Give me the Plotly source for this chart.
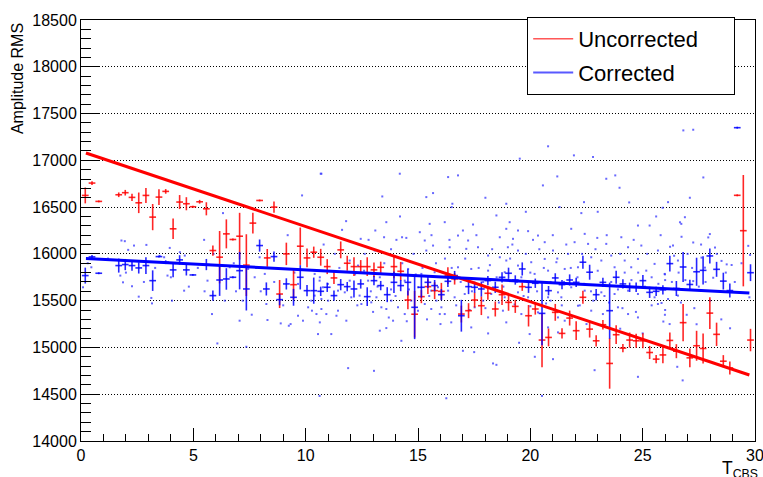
import plotly.graph_objects as go

# ---------------- data ----------------
# Profile points: Uncorrected (red)
unc_x = [0.19, 0.49, 0.79, 1.68, 1.97, 2.27, 2.57, 2.89, 3.19, 3.47, 3.77, 4.10, 4.39, 4.69, 4.98,
         5.28, 5.58, 5.87, 6.17, 6.47, 6.76, 7.06, 7.36, 7.65, 7.95, 8.29, 8.59, 8.84, 9.14, 9.46,
         9.76, 10.06, 10.36, 10.67, 10.96, 11.26, 11.56, 11.85, 12.15, 12.45, 12.74, 13.04, 13.34,
         13.93, 14.23, 14.55, 14.85, 15.15, 15.44, 15.74, 16.04, 16.33, 16.63, 16.93, 17.25, 17.52,
         17.82, 18.11, 18.44, 18.74, 19.03, 19.33, 19.64, 19.92, 20.22, 20.52, 20.81, 21.11, 21.41,
         21.75, 22.04, 22.34, 22.64, 22.93, 23.23, 23.53, 23.82, 24.12, 24.42, 24.71, 25.01, 25.31,
         25.60, 25.90, 26.21, 26.50, 26.80, 27.10, 27.40, 27.69, 27.99, 28.29, 28.59, 28.88, 29.21,
         29.48, 29.80]
unc_y = [16625, 16757, 16561, 16632, 16654, 16604, 16546, 16625, 16393, 16607, 16668, 16268, 16554, 16536, 16504,
         16557, 16482, 16036, 15965, 16214, 16154, 16189, 15880, 16329, 16571, 15957, 16500, 15571, 16000, 15671,
         16082, 15957, 16018, 15964, 15864, 15743, 16043, 15900, 15864, 15864, 15864, 15829, 15857,
         15864, 15814, 15507, 15355, 15543, 15650, 15607, 15600, 15768, 15732, 15357, 15393, 15507,
         15446, 15579, 15411, 15564, 15482, 15439, 15650, 15339, 15411, 15079, 15107, 15375, 15150,
         15314, 15179, 15536, 15196, 15071, 15243, 14829, 15136, 14993, 15079, 15071, 15071, 14946,
         14875, 14920, 15075, 14960, 15265, 14889, 15018, 14989, 15367, 15140, 14853, 14781, 16626,
         16248, 15079]
unc_err = [85, 20, 10, 25, 30, 40, 110, 80, 140, 85, 25, 110, 75, 70, 10,
           20, 70, 55, 280, 155, 10, 250, 330, 110, 10, 95, 60, 150, 120, 160,
           200, 100, 60, 90, 80, 65, 90, 80, 100, 70, 100, 80, 60,
           125, 100, 100, 250, 70, 80, 90, 90, 90, 60, 90, 80, 80,
           100, 70, 80, 110, 90, 70, 45, 115, 60, 290, 95, 90, 55,
           80, 100, 70, 90, 60, 50, 270, 100, 45, 80, 75, 80, 70,
           45, 90, 85, 75, 200, 100, 160, 160, 170, 125, 65, 70, 10,
           595, 120]

# Profile points: Corrected (blue)
cor_x = [0.19, 0.49, 0.79, 1.68, 1.97, 2.27, 2.57, 2.89, 3.19, 3.47, 3.77, 4.10, 4.39, 4.69, 4.98,
         5.58, 5.87, 6.17, 6.47, 6.76, 7.06, 7.36, 7.95, 8.25, 8.59, 8.84, 9.14, 9.46, 9.76, 10.06,
         10.36, 10.67, 10.96, 11.26, 11.56, 11.85, 12.15, 12.45, 12.74, 13.04, 13.34, 13.63, 13.93,
         14.23, 14.55, 14.85, 15.15, 15.44, 15.74, 16.04, 16.33, 16.63, 16.93, 17.25, 17.52, 17.82,
         18.11, 18.44, 18.74, 19.03, 19.33, 19.64, 19.92, 20.22, 20.52, 20.81, 21.11, 21.41, 21.75,
         22.04, 22.34, 22.64, 22.93, 23.23, 23.53, 23.82, 24.12, 24.42, 24.71, 25.01, 25.31, 25.60,
         25.90, 26.21, 26.50, 26.80, 27.10, 27.40, 27.69, 27.99, 28.29, 28.59, 28.88, 29.21, 29.80]
cor_y = [15768, 15968, 15793, 15875, 15886, 15875, 15850, 15875, 15714, 15971, 15911, 15829, 15936, 15829, 15775,
         15886, 15554, 15721, 15732, 15750, 15821, 15625, 16089, 15625, 15971, 15511, 15679, 15536, 15750, 15607,
         15607, 15600, 15643, 15554, 15671, 15650, 15625, 15679, 15543, 15714, 15661, 15564, 15696,
         15661, 15696, 15429, 15643, 15696, 15661, 15564, 15707, 15768, 15339, 15650, 15643, 15625,
         15714, 15643, 15750, 15793, 15721, 15839, 15643, 15686, 15364, 15607, 15743, 15671, 15721,
         15696, 15911, 15804, 15564, 15696, 15393, 15750, 15679, 15643, 15643, 15714, 15589, 15600,
         15615, 15896, 15630, 15860, 15673, 15809, 15824, 15978, 15835, 15709, 15608, 17349, 15799]
cor_err = [85, 20, 10, 75, 60, 55, 60, 90, 110, 10, 20, 80, 50, 60, 10,
           60, 55, 170, 115, 10, 200, 230, 65, 70, 55, 60, 60, 90, 130, 60,
           140, 50, 50, 55, 60, 50, 90, 50, 100, 50, 50, 80, 115,
           60, 140, 340, 110, 60, 60, 60, 60, 50, 170, 80, 60, 80,
           50, 60, 55, 60, 50, 70, 60, 50, 340, 50, 50, 50, 60,
           50, 70, 80, 60, 50, 300, 70, 50, 50, 50, 60, 60, 50,
           50, 85, 80, 160, 50, 150, 150, 80, 80, 90, 75, 10, 90]

# Linear fits
fit_x = [0.22, 29.75]
unc_fit_y = [17078, 14705]
cor_fit_y = [15951, 15582]

# Individual corrected events (scatter)
evt_x = [1.80, 1.95, 2.36, 2.10, 2.91, 3.95, 3.50, 3.70, 4.40, 4.62, 0.46, 0.09, 1.75, 1.87, 2.27, 2.57,
         3.13, 3.16, 3.85, 4.00, 4.59, 4.05,
         6.32, 5.48, 9.84, 10.70, 6.07, 7.36, 5.83, 7.06, 8.25, 8.30, 8.89, 9.33, 9.66, 9.88, 10.11,
         10.28, 10.48, 10.63, 10.25, 10.40, 10.63, 7.73, 8.18, 7.95, 7.44, 6.62, 5.63, 10.40, 10.70,
         9.66, 9.25, 10.55,
         10.67, 14.19, 13.41, 15.67, 15.37, 13.59, 15.52, 12.45, 11.62, 13.49, 14.04, 14.29, 14.48,
         15.08, 15.30, 15.67, 15.37, 13.07, 12.63, 11.96, 12.33, 10.62, 10.77, 10.99, 11.44, 11.74,
         12.03, 12.40, 12.48, 12.92, 13.15, 13.37, 13.59, 13.81, 14.11, 14.41, 14.70, 15.00, 15.30,
         15.59, 15.82, 15.97, 10.70, 10.92, 11.44, 11.37, 11.81, 11.14, 13.30, 13.59, 13.89, 14.26,
         11.89, 13.04, 10.62, 14.56, 13.96, 15.15, 15.74, 11.96, 12.78, 13.30, 14.41, 15.00, 15.59,
         15.89,
         20.79, 19.53, 16.34, 16.78, 16.53, 18.93, 16.19, 19.08, 20.56, 21.20, 18.49, 16.78, 17.23,
         17.45, 18.64, 18.93, 19.23, 19.45, 19.90, 20.12, 20.34, 20.64, 21.01, 16.41, 17.15, 17.67,
         19.00, 19.45, 18.12, 18.64, 18.93, 20.04, 20.64, 21.16, 16.78, 17.37, 18.12, 18.86, 19.45,
         20.19, 20.79, 16.34, 16.63, 17.08, 18.26, 18.86, 19.45, 19.90, 20.79, 21.23, 16.04, 16.19,
         16.48, 17.52, 18.12, 18.78, 19.60, 20.34, 21.01, 21.23, 17.37, 18.12, 18.93, 19.97, 20.79,
         17.00, 21.01, 18.34, 18.49, 20.52, 16.26, 21.23,
         21.94, 22.79, 22.39, 22.27, 23.38, 23.78, 23.97, 26.13, 24.79, 25.31, 21.82, 22.42, 22.98,
         24.05, 21.97, 22.57, 23.38, 24.35, 24.94, 25.68, 26.35, 26.72, 21.68, 22.71, 23.16, 23.60,
         24.20, 24.79, 25.53, 26.57, 21.53, 22.12, 23.75, 24.49, 25.16, 25.98, 21.82, 22.42, 23.16,
         23.75, 24.35, 24.79, 25.53, 26.13, 26.57, 21.38, 22.12, 22.71, 23.23, 23.90, 24.35, 25.68,
         22.86, 24.79, 26.54, 21.53, 24.79,
         26.81, 27.25, 27.70, 25.89, 26.88, 26.66, 26.73, 27.25, 27.99, 27.92, 28.22, 26.22, 29.70,
         29.78, 28.51, 28.74, 28.96, 27.62, 27.77, 25.99, 27.25, 28.14, 25.84, 25.99, 25.92, 26.96,
         27.40, 28.89, 26.78, 29.75,
         12.2, 12.6, 12.9, 13.2, 13.5, 13.8, 14.0, 14.3, 14.6, 14.9, 15.2, 15.5, 15.8, 16.1, 12.3,
         13.0, 13.7, 14.5, 15.4, 16.0, 12.8, 13.8, 14.8, 15.6, 14.2, 13.1, 11.0, 11.5, 11.3, 10.8,
         9.5, 9.0, 8.6, 8.0, 7.6, 6.9, 6.4, 5.9, 9.2, 11.8,
         16.2, 16.5, 16.9, 17.1, 17.4, 17.7, 17.9, 18.2, 18.5, 18.8, 19.1, 19.4, 19.7, 20.0, 20.3,
         20.6, 20.9, 21.2, 21.5, 21.8, 16.4, 17.0, 17.6, 18.3, 19.2, 19.8, 20.4, 21.0, 21.6, 16.7,
         17.3, 18.0, 18.6, 19.3, 20.0, 20.7, 21.4, 17.9, 19.6, 20.9, 16.5, 18.0, 19.8, 21.3, 17.5,
         19.5, 20.2,
         22.1, 22.4, 22.7, 23.0, 23.3, 23.6, 23.9, 24.2, 24.5, 24.8, 25.1, 25.4, 25.7, 26.0, 26.3,
         26.6, 26.9, 27.2, 27.5, 27.8, 22.3, 22.9, 23.4, 24.0, 24.6, 25.2, 25.8, 26.4, 27.0, 27.6,
         22.2, 22.8, 23.5, 24.1, 24.7, 25.4, 26.0, 26.7, 27.3, 28.0, 23.0, 24.4, 25.6, 27.1, 28.3,
         28.7, 29.1, 29.4, 22.5, 24.0, 25.0, 26.2, 28.5,
         0.3, 1.2, 2.0, 2.8, 3.3, 4.2, 4.8, 5.2, 5.5, 6.8, 7.2, 7.8]
evt_y = [16143, 16136, 16089, 16043, 16096, 16064, 15979, 15964, 16018, 15982, 15857, 15643, 15768, 15696, 15654, 15543,
         15529, 15471, 15768, 15750, 15607, 15500,
         16436, 16150, 16625, 16857, 15043, 15007, 15357, 15286, 15464, 15293, 15257, 15250, 15339, 15286, 15429,
         15393, 15357, 15268, 15500, 15786, 15750, 15750, 15786, 15964, 15839, 15857, 15714, 15554, 15518,
         15679, 15232, 15143,
         16857, 16857, 16614, 16650, 16607, 16339, 16321, 16161, 16257, 16178, 16150, 16178, 16171,
         16232, 16143, 16089, 16036, 16036, 16000, 15929, 15875, 15714, 15643, 15679, 15607, 15589,
         15536, 15554, 15464, 15482, 15536, 15429, 15411, 15500, 15429, 15357, 15500, 15393, 15464,
         15411, 15500, 15357, 15411, 15357, 15393, 15339, 15286, 15143, 15179, 15207, 15286, 15071,
         14779, 14750, 14482, 15839, 15786, 15786, 15804, 15714, 15714, 15750, 15714, 15643, 15607,
         15643,
         17150, 17018, 16821, 16839, 16536, 16536, 16339, 16339, 16732, 16828, 16411, 16196, 16143,
         16314, 16178, 16268, 16161, 16250, 16243, 16150, 16196, 16125, 16036, 16071, 16054, 16071,
         16071, 16036, 15982, 15964, 15929, 15911, 15946, 15911, 15857, 15839, 15821, 15804, 15875,
         15786, 15821, 15607, 15536, 15571, 15571, 15536, 15589, 15536, 15536, 15589, 15429, 15357,
         15268, 15429, 15321, 15393, 15357, 15375, 15411, 15321, 15214, 15150, 15268, 15143, 15214,
         14964, 14875, 14829, 14814, 14482, 14457, 15161,
         17053, 17036, 16553, 16436, 16803, 16839, 16707, 16553, 16303, 16303, 16268, 16214, 16171,
         16178, 16125, 16107, 16107, 16071, 16089, 16036, 16089, 16321, 16000, 15964, 15929, 15982,
         15929, 15946, 15893, 15929, 15839, 15857, 15857, 15857, 15821, 15786, 15643, 15607, 15589,
         15571, 15607, 15571, 15536, 15518, 15554, 15536, 15446, 15393, 15357, 15429, 15357, 15464,
         14757, 14686, 14793, 15286, 15321,
         17320, 17327, 16817, 16493, 16392, 16338, 16183, 16122, 16212, 16176, 16068, 16076, 16086,
         15989, 15925, 15888, 15881, 15960, 15853, 15781, 15709, 15745, 15475, 15349, 15277, 15349,
         15248, 15205, 14648, 15536,
         15780, 15820, 15600, 15650, 15900, 15620, 15550, 15900, 15620, 15780, 15850, 15550, 15900, 15800, 15450,
         15380, 15320, 15280, 15300, 15250, 16150, 16050, 16000, 16200, 16400, 16250, 15500, 15850, 16000, 16100,
         15800, 15450, 15700, 15600, 15350, 15600, 15500, 16000, 16200, 16350,
         15950, 15850, 15700, 15950, 15600, 15850, 15500, 15880, 15750, 15650, 15950, 15700, 15550, 15800, 15600,
         15850, 15700, 15950, 15700, 15850, 16150, 16250, 16200, 16050, 16100, 16000, 16050, 16200, 16100, 15450,
         15400, 15420, 15480, 15460, 15440, 15470, 15450, 15700, 15750, 15500, 16500, 16600, 16450, 16500, 14950,
         15050, 14900,
         15750, 15680, 15600, 15820, 15550, 15700, 15620, 15800, 15720, 15800, 15650, 15750, 15680, 15720, 15700,
         15800, 15720, 15850, 15650, 15700, 16000, 16050, 16200, 16000, 16150, 16000, 16200, 15980, 16000, 16100,
         15450, 15500, 15480, 15420, 15380, 15450, 15400, 15480, 15420, 15500, 16450, 16550, 16400, 16600, 16000,
         15800, 15700, 15900, 15250, 15200, 15150, 15250, 15300,
         15900, 15950, 15800, 15700, 15850, 15900, 15650, 15850, 15600, 15900, 15500, 15850]

x_ticks = [0, 5, 10, 15, 20, 25, 30]
y_ticks = [14000, 14500, 15000, 15500, 16000, 16500, 17000, 17500, 18000, 18500]

FONT = "Liberation Sans, Arial, Helvetica, sans-serif"

fig = go.Figure()

fig.add_trace(go.Scatter(
    x=evt_x, y=evt_y, mode="markers", showlegend=False, hoverinfo="skip",
    marker=dict(symbol="square", size=2, color="rgba(40,40,255,0.7)", line=dict(width=0)),
))

fig.add_trace(go.Scatter(
    x=unc_x, y=unc_y, mode="markers", showlegend=False,
    marker=dict(size=0.1, color="rgba(0,0,0,0)"),
    error_x=dict(type="constant", value=0.15, width=0, thickness=1.6, color="rgba(255,0,0,0.85)"),
    error_y=dict(type="data", array=unc_err, width=0, thickness=1.6, color="rgba(255,0,0,0.85)"),
))

fig.add_trace(go.Scatter(
    x=cor_x, y=cor_y, mode="markers", showlegend=False,
    marker=dict(size=0.1, color="rgba(0,0,0,0)"),
    error_x=dict(type="constant", value=0.15, width=0, thickness=1.6, color="rgba(0,0,255,0.85)"),
    error_y=dict(type="data", array=cor_err, width=0, thickness=1.6, color="rgba(0,0,255,0.85)"),
))

fig.add_trace(go.Scatter(
    x=fit_x, y=unc_fit_y, mode="lines", showlegend=False,
    line=dict(color="#ff0000", width=3),
))
fig.add_trace(go.Scatter(
    x=fit_x, y=cor_fit_y, mode="lines", showlegend=False,
    line=dict(color="#0000ff", width=3),
))

# legend entries
fig.add_trace(go.Scatter(
    x=[None], y=[None], mode="lines", name="Uncorrected\u00a0\u00a0\u00a0\u00a0\u00a0", legendgroup="a",
    line=dict(color="#ff0000", width=1),
))
fig.add_trace(go.Scatter(
    x=[None], y=[None], mode="lines", name="Corrected", legendgroup="b",
    line=dict(color="rgba(60,60,255,0.85)", width=2),
))

fig.update_layout(
    width=763, height=477,
    margin=dict(l=81, r=8, t=20, b=36, autoexpand=False),
    paper_bgcolor="white", plot_bgcolor="white",
    font=dict(family=FONT, color="black"),
    showlegend=True,
    legend=dict(
        x=0.662, y=1.007, xanchor="left", yanchor="top",
        bordercolor="black", borderwidth=1, bgcolor="white",
        font=dict(size=22, family=FONT, color="black"),
        tracegroupgap=2, itemwidth=40,
    ),
    xaxis=dict(
        range=[0, 30], tickvals=x_ticks, ticktext=[str(v) for v in x_ticks],
        showgrid=False, zeroline=False, automargin=False, ticklabeloverflow="allow",
        showline=True, linecolor="black", linewidth=1, mirror=True,
        ticks="inside", ticklen=13, tickcolor="black", tickwidth=1,
        minor=dict(dtick=1, ticks="inside", ticklen=7, tickcolor="black", showgrid=False),
        tickfont=dict(size=16, family=FONT, color="black"),
    ),
    yaxis=dict(
        range=[14000, 18500], tickvals=y_ticks, ticktext=[str(v) for v in y_ticks],
        showgrid=True, gridcolor="black", gridwidth=1, griddash="1px,2px", zeroline=False,
        automargin=False, ticklabeloverflow="allow",
        showline=True, linecolor="black", linewidth=1, mirror=True,
        ticks="inside", ticklen=19, tickcolor="black", tickwidth=1,
        minor=dict(dtick=100, ticks="inside", ticklen=10, tickcolor="black", showgrid=False),
        tickfont=dict(size=16, family=FONT, color="black"),
    ),
    annotations=[
        dict(text="Amplitude RMS", textangle=-90, xref="paper", yref="paper",
             x=-0.095, y=0.862, xanchor="center", yanchor="middle", showarrow=False,
             font=dict(size=16, family=FONT, color="black")),
        dict(text="T<sub>CBS</sub>", xref="paper", yref="paper",
             x=1.008, y=-0.036, xanchor="right", yanchor="top", showarrow=False,
             font=dict(size=17.5, family=FONT, color="black")),
    ],
)

# remove the browser's default 8px page margin so the 763x477 figure fills the window
fig.write_html(
    "out.html",
    config={"displayModeBar": False},
    post_script="document.body.style.margin='0';"
                "document.documentElement.style.overflow='hidden';"
                "document.body.style.overflow='hidden';",
)
